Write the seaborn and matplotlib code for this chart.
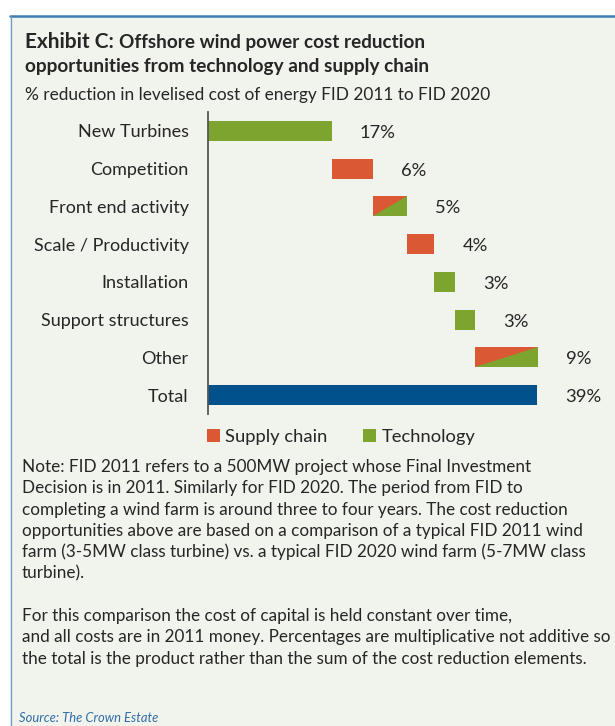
import numpy as np
import pandas as pd
import matplotlib
matplotlib.use("Agg")
import matplotlib.pyplot as plt
import seaborn as sns
from matplotlib.patches import Rectangle, Polygon, Patch
from matplotlib.lines import Line2D

# ---- data -------------------------------------------------------------
categories = ["New Turbines", "Competition", "Front end activity",
              "Scale / Productivity", "Installation", "Support structures",
              "Other", "Total"]
reduction_pct = [17, 6, 5, 4, 3, 3, 9, 39]
driver = ["Technology", "Supply chain", "Mixed", "Supply chain",
          "Technology", "Technology", "Mixed", "Total"]
legend_labels = ["Supply chain", "Technology"]

# ---- style ------------------------------------------------------------
BG = "#F1F3ED"
RED = "#DB5835"
GREEN = "#7DA42F"
BLUE = "#00518C"
TEXT = "#262626"
FRAME = "#3F7DB3"

sns.set_theme(style="white")
plt.rcParams["font.family"] = ["Lato", "DejaVu Sans"]

W, H = 615, 726
def fx(px):
    return px / W
def fy(py):
    return 1 - py / H

# Reductions compound multiplicatively, so each step is sized on a log scale:
# the steps then add up exactly to the total bar.
log_width = -np.log(1 - np.array(reduction_pct) / 100.0)
n_steps = len(categories) - 1
step_start = np.concatenate([[0.0], np.cumsum(log_width[:n_steps - 1])])
start = np.concatenate([step_start, [0.0]])

df = pd.DataFrame({"category": categories, "width": log_width,
                   "start": start, "driver": driver, "pct": reduction_pct})

fig = plt.figure(figsize=(W / 100, H / 100), dpi=100)
fig.patch.set_facecolor("white")

# panel background and its borders
fig.add_artist(Rectangle((fx(10), 0), 1, fy(16), transform=fig.transFigure,
                         facecolor=BG, edgecolor="none", zorder=-10))
fig.add_artist(Line2D([fx(10), 1], [fy(16), fy(16)], transform=fig.transFigure,
                      color=FRAME, lw=1.8, zorder=-5))
fig.add_artist(Line2D([fx(10.5), fx(10.5)], [0, fy(16)], transform=fig.transFigure,
                      color="#6E9BC6", lw=0.9, zorder=-5))

ax = fig.add_axes([fx(208), fy(414), fx(600) - fx(208), fy(112) - fy(414)])
ax.set_facecolor("none")

sns.barplot(data=df, x="width", y="category", order=categories, orient="h",
            left=df["start"].to_numpy(), width=0.53, color=GREEN,
            errorbar=None, ax=ax, linewidth=0)

colour_of = {"Technology": GREEN, "Supply chain": RED, "Mixed": RED, "Total": BLUE}
for patch, kind in zip(ax.patches, df["driver"]):
    patch.set_facecolor(colour_of[kind])
    patch.set_edgecolor("none")
    if kind == "Mixed":
        x0, y0 = patch.get_x(), patch.get_y()
        x1, y1 = x0 + patch.get_width(), y0 + patch.get_height()
        ax.add_patch(Polygon([(x0, y1), (x1, y1), (x1, y0)], closed=True,
                             facecolor=GREEN, edgecolor="none", zorder=patch.get_zorder() + 0.1))

ax.set_xlim(0, 0.589)
ax.set_ylim(len(categories) - 0.5, -0.5)
ax.set_xticks([])
ax.set_xlabel("")
ax.set_ylabel("")
for side in ["top", "right", "bottom"]:
    ax.spines[side].set_visible(False)
ax.spines["left"].set_color("#555555")
ax.spines["left"].set_linewidth(1.3)
ax.tick_params(axis="y", length=0, pad=14, labelsize=13, labelcolor=TEXT)

for i, row in df.iterrows():
    end = row["start"] + row["width"]
    ax.annotate(f"{row['pct']}%", xy=(end, i), xytext=(28, -2),
                textcoords="offset pixels", ha="left", va="center",
                fontsize=13.2, color=TEXT)

# legend
handles = [Patch(facecolor=RED, edgecolor="none"), Patch(facecolor=GREEN, edgecolor="none")]
fig.legend(handles, legend_labels, loc="center left",
           bbox_to_anchor=(fx(207), fy(437)), ncol=2, frameon=False,
           handlelength=0.7, handleheight=0.7, handletextpad=0.3,
           columnspacing=1.95, fontsize=13.2, borderpad=0, borderaxespad=0,
           labelcolor=TEXT)

# titles
renderer = fig.canvas.get_renderer()
t1 = fig.text(fx(25), fy(48), "Exhibit C:", fontsize=15, fontweight="bold",
              color=TEXT, va="baseline", ha="left")
bb = t1.get_window_extent(renderer)
fig.text((bb.x1 + 5) / W, fy(48), "Offshore wind power cost reduction",
         fontsize=13.6, fontweight="bold", color=TEXT, va="baseline", ha="left")
fig.text(fx(25), fy(72), "opportunities from technology and supply chain",
         fontsize=13.7, fontweight="bold", color=TEXT, va="baseline", ha="left")
fig.text(fx(25), fy(100), "% reduction in levelised cost of energy FID 2011 to FID 2020",
         fontsize=12.4, color=TEXT, va="baseline", ha="left")

# note
note_lines = [
    "Note: FID 2011 refers to a 500MW project whose Final Investment",
    "Decision is in 2011. Similarly for FID 2020. The period from FID to",
    "completing a wind farm is around three to four years. The cost reduction",
    "opportunities above are based on a comparison of a typical FID 2011 wind",
    "farm (3-5MW class turbine) vs. a typical FID 2020 wind farm (5-7MW class",
    "turbine).",
    "",
    "For this comparison the cost of capital is held constant over time,",
    "and all costs are in 2011 money. Percentages are multiplicative not additive so",
    "the total is the product rather than the sum of the cost reduction elements.",
]
for k, line in enumerate(note_lines):
    if line:
        fig.text(fx(22), fy(467 + 21.3 * k), line, fontsize=12.3, color=TEXT,
                 va="center", ha="left")

fig.text(fx(19), fy(718), "Source: The Crown Estate", fontsize=9.4, style="italic",
         color="#2F6EA8", va="center", ha="left")

fig.savefig("out.png", dpi=100, facecolor=fig.get_facecolor())
